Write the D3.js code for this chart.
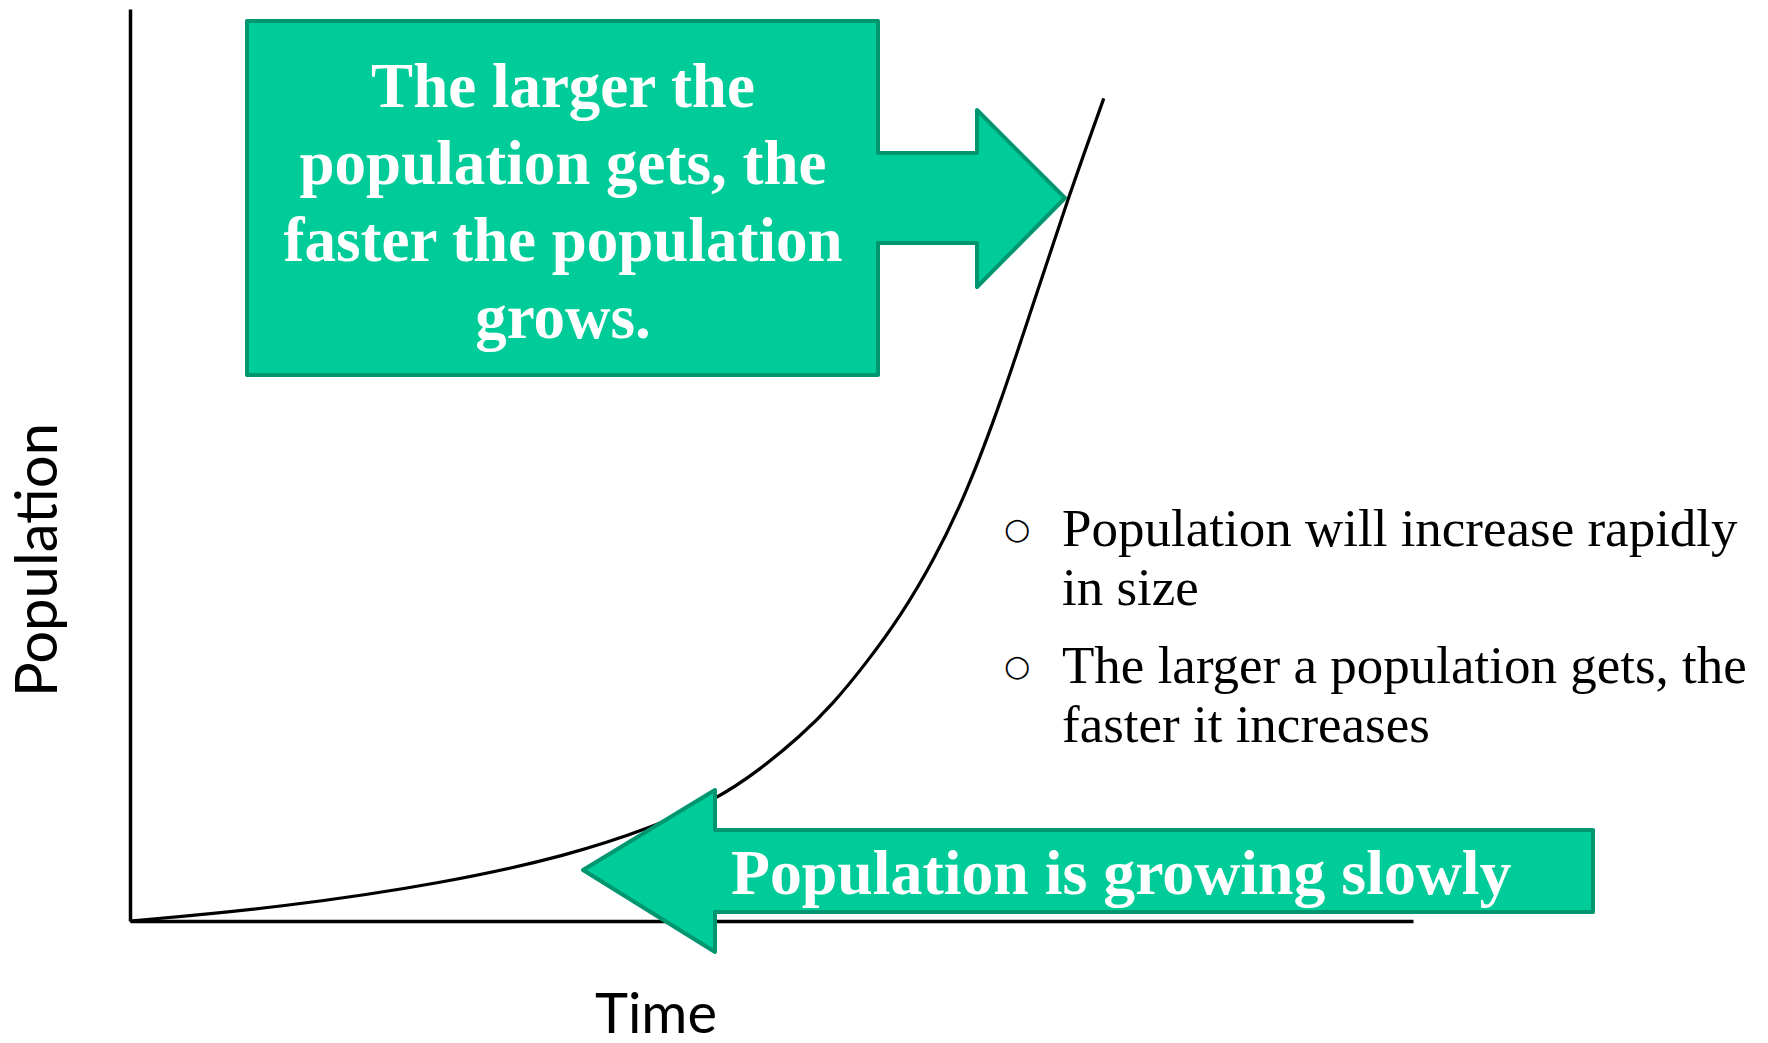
<!DOCTYPE html>
<html>
<head>
<meta charset="utf-8">
<script src="https://cdn.jsdelivr.net/npm/d3@7"></script>
<style>
  html, body { margin: 0; padding: 0; background: #ffffff; }
  svg { display: block; }
</style>
</head>
<body>
<script>
// ---- Data ----
const timeValues = [0, 1.19, 2.47, 3.42, 4.06, 4.57, 4.91, 5.22, 5.48, 5.74, 6.0, 6.26, 6.52, 6.79, 7.05, 7.31, 7.59];
const populationValues = [0, 1.5, 4.2, 7.2, 10.2, 13.3, 16.6, 20.2, 23.8, 28.3, 33.3, 39.4, 46.9, 57.0, 68.1, 79.2, 90.2];
const xDomain = [0, 10];
const yDomain = [0, 100];
const xAxisLabel = "Time";
const yAxisLabel = "Population";
const calloutLines = ["The larger the", "population gets, the", "faster the population", "grows."];
const slowLabel = "Population is growing slowly";
const bulletItems = [
  ["Population will increase rapidly", "in size"],
  ["The larger a population gets, the", "faster it increases"]
];
const bulletMark = "\u25CB";

// ---- Layout ----
const W = 1768, H = 1043;
const plot = { left: 130, right: 1413, top: 9, bottom: 921 };
const green = "#00CC99", greenEdge = "#00966F";

const svg = d3.select("body").append("svg").attr("width", W).attr("height", H);

const x = d3.scaleLinear().domain(xDomain).range([plot.left, plot.right]);
const y = d3.scaleLinear().domain(yDomain).range([plot.bottom, plot.top]);

// Axes (plain lines, no ticks)
svg.append("g").attr("transform", `translate(0,${plot.bottom})`)
  .call(d3.axisBottom(x).tickValues([]).tickSizeOuter(0))
  .call(g => g.select(".domain").attr("stroke", "#000").attr("stroke-width", 3.5));
svg.append("g").attr("transform", `translate(${plot.left},0)`)
  .call(d3.axisLeft(y).tickValues([]).tickSizeOuter(0))
  .call(g => g.select(".domain").attr("stroke", "#000").attr("stroke-width", 3.5));

// Curve
const pts = timeValues.map((t, i) => [t, populationValues[i]]);
svg.append("path")
  .datum(pts)
  .attr("fill", "none")
  .attr("stroke", "#000")
  .attr("stroke-width", 3.2)
  .attr("d", d3.line().x(d => x(d[0])).y(d => y(d[1])).curve(d3.curveBasis));

// Axis labels
svg.append("text")
  .attr("x", 656).attr("y", 1033)
  .attr("text-anchor", "middle")
  .attr("font-family", "Lato, 'Open Sans', sans-serif")
  .attr("font-size", 56)
  .attr("fill", "#000")
  .text(xAxisLabel);
svg.append("text")
  .attr("transform", "translate(57,560) rotate(-90)")
  .attr("text-anchor", "middle")
  .attr("font-family", "Lato, 'Open Sans', sans-serif")
  .attr("font-size", 58)
  .attr("fill", "#000")
  .text(yAxisLabel);

// Top callout (box with right arrow)
const topShape = [[247,21],[878,21],[878,153],[977,153],[977,110],[1065,198],[977,287],[977,243],[878,243],[878,375],[247,375]];
svg.append("path")
  .attr("d", d3.line()(topShape) + "Z")
  .attr("fill", green).attr("stroke", greenEdge).attr("stroke-width", 4).attr("stroke-linejoin", "round");
svg.append("g").selectAll("text").data(calloutLines).join("text")
  .attr("x", 563)
  .attr("y", (d, i) => 107 + i * 77)
  .attr("text-anchor", "middle")
  .attr("font-family", "'Liberation Serif', 'Times New Roman', serif")
  .attr("font-weight", "bold")
  .attr("font-size", 63)
  .attr("fill", "#fff")
  .text(d => d);

// Bottom left-pointing arrow
const botShape = [[583,870],[715,790],[715,830],[1593,830],[1593,912],[715,912],[715,952]];
svg.append("path")
  .attr("d", d3.line()(botShape) + "Z")
  .attr("fill", green).attr("stroke", greenEdge).attr("stroke-width", 4).attr("stroke-linejoin", "round");
svg.append("text")
  .attr("x", 731).attr("y", 894)
  .attr("font-family", "'Liberation Serif', 'Times New Roman', serif")
  .attr("font-weight", "bold")
  .attr("font-size", 63.8)
  .attr("fill", "#fff")
  .text(slowLabel);

// Bullet list
const bulletTop = [546, 683];
const lineGap = 59;
const bl = svg.append("g");
bulletItems.forEach((lines, k) => {
  bl.append("text")
    .attr("x", 1017).attr("y", bulletTop[k] - 18)
    .attr("text-anchor", "middle")
    .attr("dominant-baseline", "central")
    .attr("font-family", "'DejaVu Sans', sans-serif")
    .attr("font-size", 30)
    .attr("fill", "#000")
    .text(bulletMark);
  lines.forEach((ln, j) => {
    bl.append("text")
      .attr("x", 1062).attr("y", bulletTop[k] + j * lineGap)
      .attr("font-family", "'Liberation Serif', 'Times New Roman', serif")
      .attr("font-size", 53)
      .attr("fill", "#000")
      .text(ln);
  });
});
</script>
</body>
</html>
